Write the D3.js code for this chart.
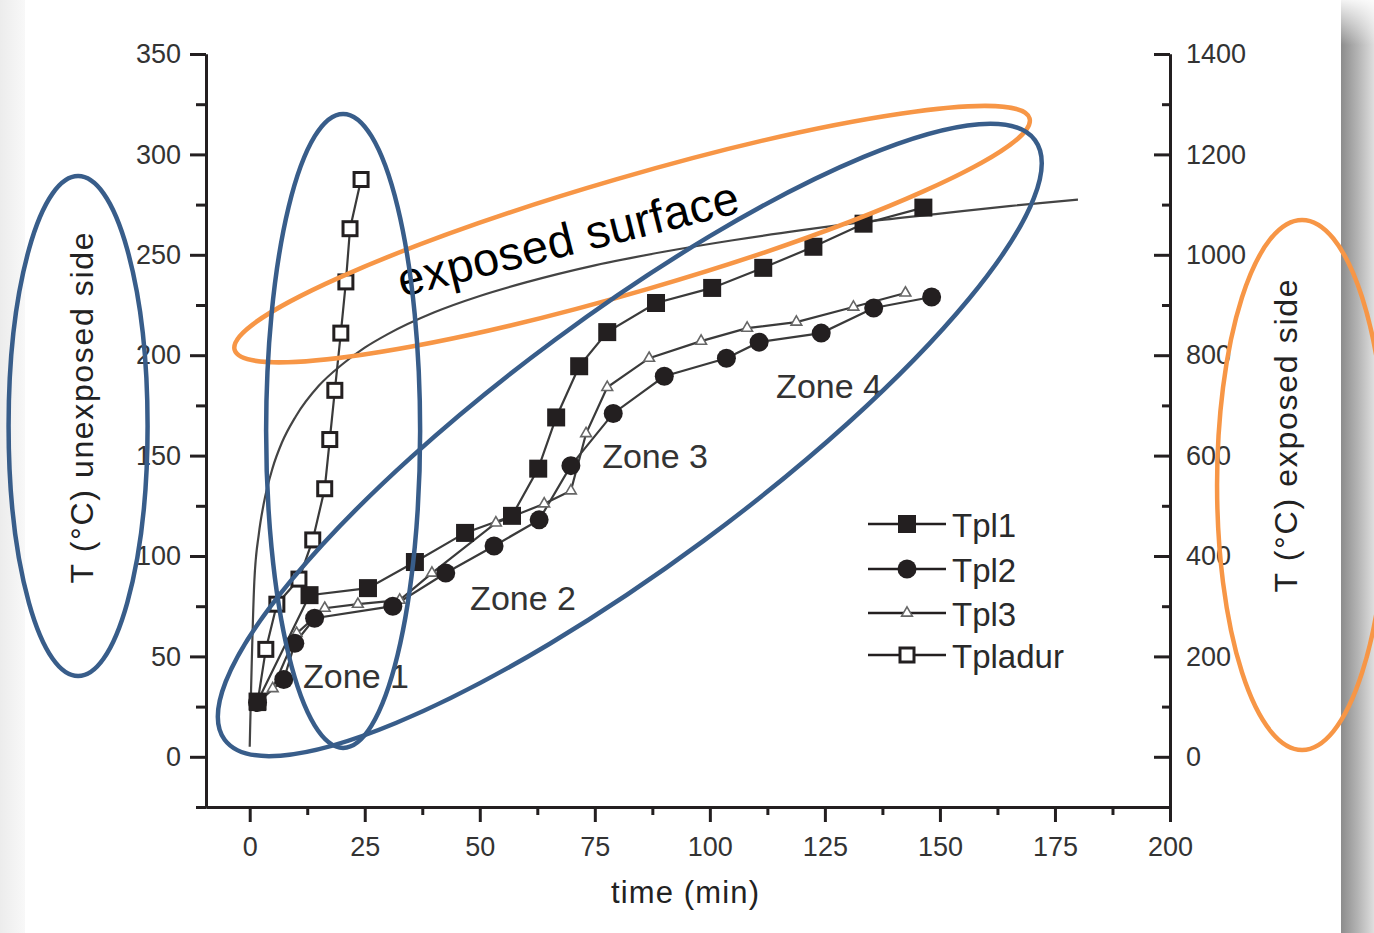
<!DOCTYPE html>
<html>
<head>
<meta charset="utf-8">
<script src="https://cdn.jsdelivr.net/npm/d3@7"></script>
<style>
  body { margin: 0; background: #fff; }
  svg { display: block; }
  text { font-family: "Liberation Sans", Arial, Helvetica, sans-serif; }
</style>
</head>
<body>
<div id="chart"></div>
<script>
// Data: [time (min), temperature (°C)]
const tpl1 = [[1.7,27.5],[13,80.5],[25.7,84],[35.9,97],[46.8,111.5],[57,120],[62.7,143.5],[66.6,169],
  [71.6,194.5],[77.7,211.5],[88.3,226],[100.5,233.5],[111.6,243.5],[122.5,254],[133.4,265.5],[146.4,273.5]];
const tpl2 = [[1.7,27],[7.4,38.5],[9.8,56.5],[14.1,69],[31.1,75],[42.6,91.5],[53.1,105],[62.9,118],
  [69.8,145],[79,171],[90.1,189.5],[103.6,198.5],[110.7,206.5],[124.2,211],[135.6,223.5],[148.2,229]];
const tpl3 = [[1.7,27],[5,34],[10.2,61.5],[16.3,74],[23.5,76],[32.6,78],[39.6,91.5],[53.5,116.5],
  [64,126],[69.8,132.5],[73.1,161],[77.7,184],[86.8,198.5],[98.1,207],[108.1,213.5],[118.8,216.5],
  [131.2,224],[142.5,231]];
const tpladur = [[1.7,27],[3.5,53.5],[5.9,76],[10.7,88.5],[13.7,108],[16.3,133.5],[17.4,158],
  [18.5,182.5],[19.8,211],[20.9,236.5],[21.8,263],[24.2,287.5]];
// exposed surface temperature (right axis)
const exposed = [[0,20],[1,349],[2,445],[3,502],[5,576],[7,626],[10,678],[15,739],[20,781],[25,815],
  [30,842],[40,885],[50,918],[60,945],[75,979],[90,1006],[105,1029],[120,1049],[135,1067],
  [150,1082],[165,1097],[180,1110]];

const xTicks = d3.range(0, 201, 25);
const yLeftTicks = d3.range(0, 351, 50);
const yRightTicks = d3.range(0, 1401, 200);
const legendNames = ["Tpl1", "Tpl2", "Tpl3", "Tpladur"];
const zones = [["Zone 1", 11.6, 34.3], ["Zone 2", 47.9, 73.1], ["Zone 3", 76.6, 143.8], ["Zone 4", 114.4, 178.7]];

const W = 1374, H = 933;
const svg = d3.select("#chart").append("svg").attr("width", W).attr("height", H);

// page background + shadows
const defs = svg.append("defs");
const gR = defs.append("linearGradient").attr("id", "shR");
gR.append("stop").attr("offset", 0).attr("stop-color", "#8c8c8c");
gR.append("stop").attr("offset", 0.5).attr("stop-color", "#b3b3b3");
gR.append("stop").attr("offset", 1).attr("stop-color", "#dedede");
const gT = defs.append("linearGradient").attr("id", "shT").attr("x1", 0).attr("x2", 0).attr("y1", 0).attr("y2", 1);
gT.append("stop").attr("offset", 0).attr("stop-color", "#fff").attr("stop-opacity", 0.9);
gT.append("stop").attr("offset", 1).attr("stop-color", "#fff").attr("stop-opacity", 0);
const gL = defs.append("linearGradient").attr("id", "shL");
gL.append("stop").attr("offset", 0).attr("stop-color", "#ececec");
gL.append("stop").attr("offset", 1).attr("stop-color", "#f8f8f8");

svg.append("rect").attr("width", W).attr("height", H).attr("fill", "#fff");
svg.append("rect").attr("x", 0).attr("width", 25).attr("height", H).attr("fill", "url(#shL)");
svg.append("rect").attr("x", 1341).attr("width", 33).attr("height", H).attr("fill", "url(#shR)");
svg.append("rect").attr("x", 1341).attr("width", 33).attr("height", 45).attr("fill", "url(#shT)");

// scales
const x = d3.scaleLinear().domain([-9.5, 200]).range([206, 1170]);
const yL = d3.scaleLinear().domain([-25, 350]).range([807, 54]);
const yR = d3.scaleLinear().domain([-100, 1400]).range([807, 54]);

function styleAxis(g) {
  g.select(".domain").attr("stroke", "#231f20").attr("stroke-width", 3);
  g.selectAll(".tick line").attr("stroke", "#231f20").attr("stroke-width", 3);
  g.selectAll(".tick text").attr("fill", "#333").style("font-size", "27px")
    .style("font-family", '"Liberation Sans", Arial, sans-serif');
}

// minor ticks first
svg.append("g").attr("transform", "translate(0,807)")
  .call(d3.axisBottom(x).tickValues(d3.range(12.5, 200, 25)).tickSize(8).tickFormat("").tickSizeOuter(0))
  .call(styleAxis);
svg.append("g").attr("transform", "translate(206,0)")
  .call(d3.axisLeft(yL).tickValues(d3.range(-25, 350, 50)).tickSize(10).tickFormat("").tickSizeOuter(0))
  .call(styleAxis);
svg.append("g").attr("transform", "translate(1170,0)")
  .call(d3.axisRight(yR).tickValues(d3.range(-100, 1400, 200)).tickSize(-8).tickFormat("").tickSizeOuter(0))
  .call(styleAxis);

// major ticks
svg.append("g").attr("transform", "translate(0,807)")
  .call(d3.axisBottom(x).tickValues(xTicks).tickSize(15).tickPadding(15).tickFormat(d3.format("d")).tickSizeOuter(0))
  .call(styleAxis);
svg.append("g").attr("transform", "translate(206,0)")
  .call(d3.axisLeft(yL).tickValues(yLeftTicks).tickSize(16).tickPadding(9).tickFormat(d3.format("d")).tickSizeOuter(0))
  .call(styleAxis);
svg.append("g").attr("transform", "translate(1170,0)")
  .call(d3.axisRight(yR).tickValues(yRightTicks).tickSize(-16).tickPadding(16).tickFormat(d3.format("d")).tickSizeOuter(0))
  .call(styleAxis);

// axis titles
svg.append("text").attr("x", 685).attr("y", 903).attr("text-anchor", "middle")
  .attr("font-size", 31).attr("fill", "#222").attr("textLength", 148).text("time (min)");
svg.append("text").attr("transform", "translate(93,408) rotate(-90)").attr("text-anchor", "middle")
  .attr("font-size", 32).attr("fill", "#222").attr("textLength", 351).text("T (°C) unexposed side");
svg.append("text").attr("transform", "translate(1297,436) rotate(-90)").attr("text-anchor", "middle")
  .attr("font-size", 32).attr("fill", "#222").attr("textLength", 313).text("T (°C) exposed side");

// exposed surface curve
const lineR = d3.line().x(d => x(d[0])).y(d => yR(d[1])).curve(d3.curveMonotoneX);
svg.append("path").datum(exposed).attr("d", lineR)
  .attr("fill", "none").attr("stroke", "#444").attr("stroke-width", 2.2);

// series
const lineL = d3.line().x(d => x(d[0])).y(d => yL(d[1]));
function drawLine(data) {
  svg.append("path").datum(data).attr("d", lineL)
    .attr("fill", "none").attr("stroke", "#3a3a3a").attr("stroke-width", 2.2);
}
const triangle = d3.symbol().type(d3.symbolTriangle).size(50);

function marker(g, type) {
  if (type === 0) g.append("rect").attr("x", -9).attr("y", -9).attr("width", 18).attr("height", 18).attr("fill", "#231f20");
  if (type === 1) g.append("circle").attr("r", 9.5).attr("fill", "#231f20");
  if (type === 2) g.append("path").attr("d", triangle).attr("fill", "#fff").attr("stroke", "#666").attr("stroke-width", 1.6);
  if (type === 3) g.append("rect").attr("x", -7).attr("y", -7).attr("width", 14).attr("height", 14)
    .attr("fill", "#fff").attr("stroke", "#231f20").attr("stroke-width", 3);
}
function drawMarkers(data, type) {
  svg.append("g").selectAll("g").data(data).join("g")
    .attr("transform", d => `translate(${x(d[0])},${yL(d[1])})`)
    .each(function () { marker(d3.select(this), type); });
}
[[tpladur, 3], [tpl3, 2], [tpl2, 1], [tpl1, 0]].forEach(([d]) => drawLine(d));
[[tpladur, 3], [tpl3, 2], [tpl2, 1], [tpl1, 0]].forEach(([d, t]) => drawMarkers(d, t));

// legend
const legY = [524, 569, 613, 655];
legendNames.forEach((name, i) => {
  const g = svg.append("g").attr("transform", `translate(868,${legY[i]})`);
  g.append("line").attr("x1", 0).attr("x2", 78).attr("stroke", "#231f20").attr("stroke-width", 2.5);
  marker(g.append("g").attr("transform", "translate(39,0)"), i);
  g.append("text").attr("x", 84).attr("y", 13).attr("font-size", 33).attr("fill", "#2a2a2a").text(name);
});

// zone labels
zones.forEach(([label, t, v]) => {
  svg.append("text").attr("x", x(t)).attr("y", yL(v)).attr("font-size", 34).attr("fill", "#333").text(label);
});

// annotation text
svg.append("text").attr("transform", `translate(${x(33.1)},${yL(229)}) rotate(-14)`)
  .attr("font-size", 47).attr("fill", "#000").attr("textLength", 350).text("exposed surface");

// annotation ellipses: centre in data coords, radii (px) and rotation
const ellipses = [
  { t: 83.1, v: 260.3, rx: 414, ry: 57, rot: -16.25, c: "#f79646" },
  { t: 228.7, v: 135.4, rx: 85, ry: 265, rot: 0, c: "#f79646" },
  { t: -37.3, v: 164.7, rx: 69.5, ry: 250, rot: 0, c: "#385d8a" },
  { t: 20.3, v: 162.3, rx: 77, ry: 317, rot: 0, c: "#385d8a" },
  { t: 82.6, v: 157.8, rx: 504, ry: 125, rot: -36.5, c: "#385d8a" }
];
svg.append("g").selectAll("ellipse").data(ellipses).join("ellipse")
  .attr("transform", d => `translate(${x(d.t)},${yL(d.v)}) rotate(${d.rot})`)
  .attr("rx", d => d.rx).attr("ry", d => d.ry)
  .attr("fill", "none").attr("stroke", d => d.c).attr("stroke-width", 4.5);
</script>
</body>
</html>
